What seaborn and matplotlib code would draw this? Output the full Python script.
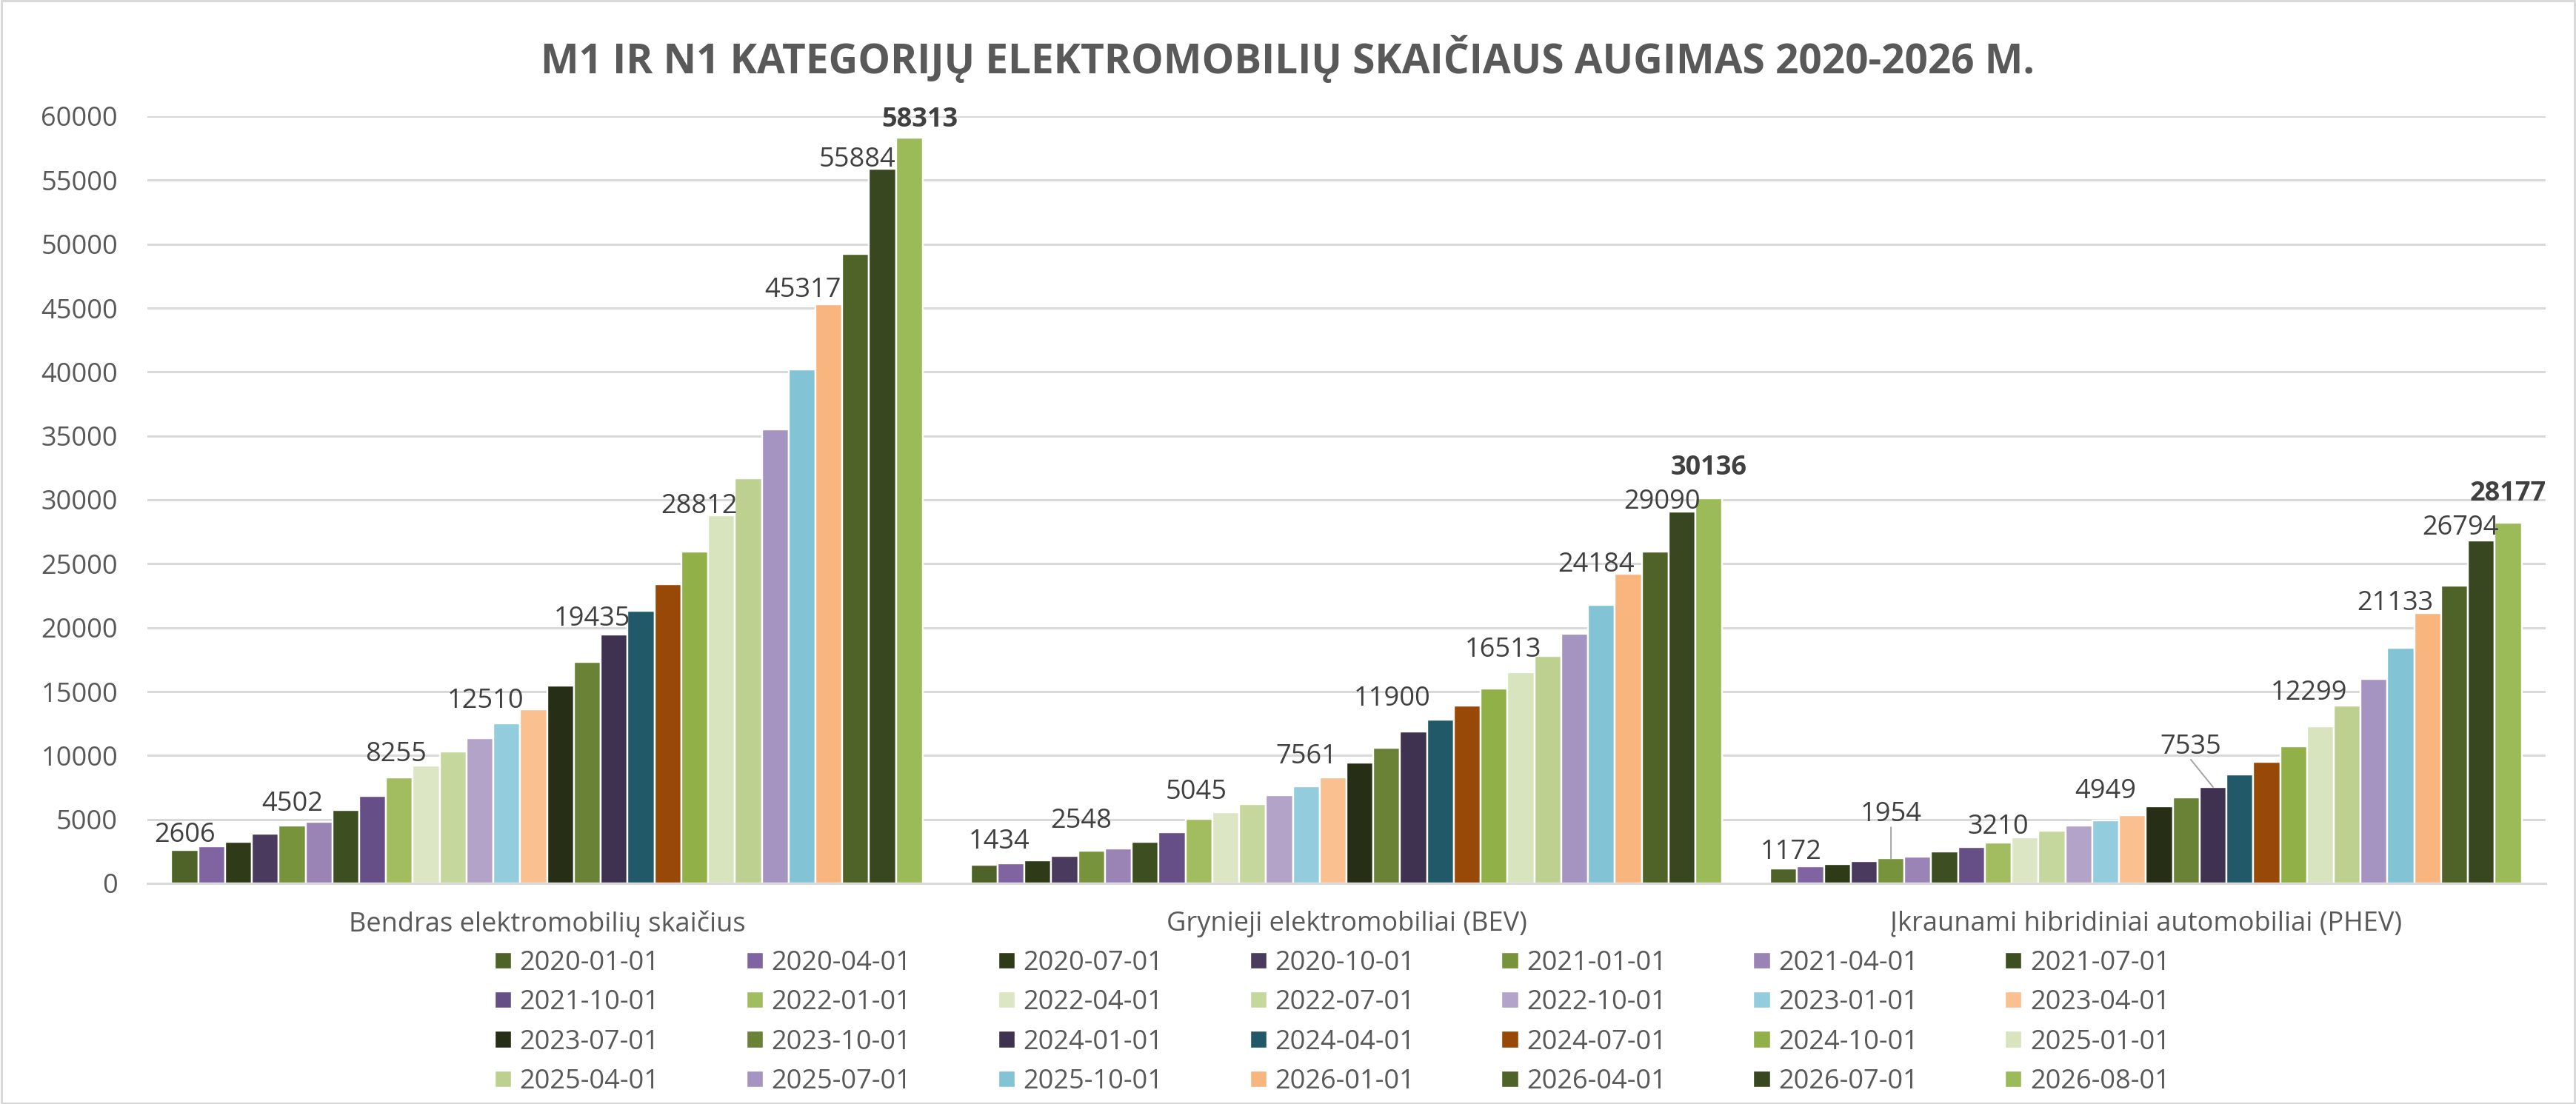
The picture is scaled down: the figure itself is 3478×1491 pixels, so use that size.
import numpy as np
import pandas as pd
import matplotlib
matplotlib.use("Agg")
import matplotlib.pyplot as plt
from matplotlib.patches import Rectangle
import seaborn as sns

# ---------------- data ----------------
title = "M1 IR N1 KATEGORIJŲ ELEKTROMOBILIŲ SKAIČIAUS AUGIMAS 2020-2026 M."
categories = ["Bendras elektromobilių skaičius",
              "Grynieji elektromobiliai (BEV)",
              "Įkraunami hibridiniai automobiliai (PHEV)"]
dates = ["2020-01-01", "2020-04-01", "2020-07-01", "2020-10-01",
         "2021-01-01", "2021-04-01", "2021-07-01", "2021-10-01",
         "2022-01-01", "2022-04-01", "2022-07-01", "2022-10-01",
         "2023-01-01", "2023-04-01", "2023-07-01", "2023-10-01",
         "2024-01-01", "2024-04-01", "2024-07-01", "2024-10-01",
         "2025-01-01", "2025-04-01", "2025-07-01", "2025-10-01",
         "2026-01-01", "2026-04-01", "2026-07-01", "2026-08-01"]
total = [2606, 2910, 3270, 3880, 4502, 4820, 5740, 6840, 8255, 9190, 10330, 11380,
         12510, 13620, 15460, 17340, 19435, 21290, 23410, 25950, 28812, 31680,
         35490, 40190, 45317, 49250, 55884, 58313]
bev = [1434, 1560, 1770, 2130, 2548, 2730, 3220, 3970, 5045, 5570, 6190, 6880,
       7561, 8280, 9420, 10610, 11900, 12800, 13900, 15220, 16513, 17760,
       19510, 21780, 24184, 25970, 29090, 30136]
phev = [1172, 1330, 1500, 1740, 1954, 2080, 2490, 2830, 3210, 3600, 4120, 4500,
        4949, 5340, 6010, 6710, 7535, 8500, 9490, 10710, 12299, 13900,
        15990, 18400, 21133, 23270, 26794, 28177]
yticks = list(range(0, 60001, 5000))

colors = ["#4F6228", "#8064A2", "#2F3A18", "#4A3A5E", "#77933C", "#9A83B5", "#3D4F21",
          "#664E86", "#A2BD5F", "#DCE6C4", "#C5D79D", "#B3A3C8", "#93CDDD", "#FAC08F",
          "#262F15", "#6A8236", "#3F3150", "#215968", "#984807", "#91B048", "#D7E4BD",
          "#BDD08F", "#A594C1", "#82C3D5", "#F9B57E", "#4F6228", "#394720", "#9BBB59"]

# labels shown (hue index) and their manual placement (dx px, gap px) per group
label_idx = [0, 4, 8, 12, 16, 20, 24, 26, 27]
bold_idx = 27
label_place = [
    {0: (0, 11), 4: (0, 20), 8: (-5, 22), 12: (-29, 21), 16: (-30, 12), 20: (-30, 3),
     24: (-35, 10), 26: (-34, 3), 27: (14, 15)},
    {0: (20, 22), 4: (-14, 31), 8: (-4, 27), 12: (0, 31), 16: (-29, 35), 20: (-24, 21),
     24: (-43, 3), 26: (-27, 4), 27: (0, 32)},
    {0: (10, 13), 4: (0, 50), 8: (0, 12), 12: (0, 30), 16: (-30, 45), 20: (-15, 36),
     24: (-44, 4), 26: (-28, 8), 27: (0, 30)},
]
leader = {(2, 4), (2, 16)}

# ---------------- build frame ----------------
series = [total, bev, phev]
rows = []
for ci, cat in enumerate(categories):
    for di, d in enumerate(dates):
        rows.append({"cat": cat, "date": d, "value": series[ci][di]})
df = pd.DataFrame(rows)

sns.set_theme(style="white")
plt.rcParams["font.family"] = ["Open Sans", "DejaVu Sans"]

W, H, DPI = 3478, 1491, 100
fig = plt.figure(figsize=(W / DPI, H / DPI), dpi=DPI, facecolor="white")
PX = 72 / DPI  # px -> pt
FS = 26

ax_l, ax_r, ax_b, ax_t = 199, 3437, 1193, 157
ax = fig.add_axes([ax_l / W, 1 - ax_b / H, (ax_r - ax_l) / W, (ax_b - ax_t) / H])

sns.barplot(data=df, x="cat", y="value", hue="date", order=categories, hue_order=dates,
            palette=colors, saturation=1, width=0.94, dodge=True,
            edgecolor="white", linewidth=2.4 * PX, ax=ax, legend=True, errorbar=None)

ax.set_ylim(0, 60000)
ax.set_xlim(-0.5, 2.5)
ax.set_yticks(yticks)
ax.set_yticklabels([str(v) for v in yticks])
ax.set_xlabel("")
ax.set_ylabel("")
ax.yaxis.grid(True, color="#D9D9D9", linewidth=3 * PX)
ax.set_axisbelow(True)
for s in ["left", "right", "top"]:
    ax.spines[s].set_visible(False)
ax.spines["bottom"].set_color("#D9D9D9")
ax.spines["bottom"].set_linewidth(3 * PX)
ax.tick_params(axis="y", length=0, pad=40 * PX, labelsize=FS, labelcolor="#595959")
ax.tick_params(axis="x", length=0, pad=37 * PX, labelsize=FS, labelcolor="#595959")

# data labels
for gi in range(3):
    for hi in label_idx:
        bar = ax.containers[hi][gi]
        x = bar.get_x() + bar.get_width() / 2
        h = bar.get_height()
        dx, gap = label_place[gi][hi]
        ax.annotate(str(series[gi][hi]), xy=(x, h), xytext=(dx * PX, gap * PX),
                    textcoords="offset points", ha="center", va="baseline",
                    fontsize=FS, color="#404040",
                    fontweight="bold" if hi == bold_idx else "normal")
        if (gi, hi) in leader:
            ax.annotate("", xy=(x, h), xytext=(dx * PX, (gap - 8) * PX),
                        textcoords="offset points",
                        arrowprops=dict(arrowstyle="-", color="#A6A6A6",
                                        lw=2 * PX, shrinkA=0, shrinkB=0))

# legend (row-major order like reference)
handles, labels = ax.get_legend_handles_labels()
ax.get_legend().remove()
ncol, nrow = 7, 4
order = [r * ncol + c for c in range(ncol) for r in range(nrow)]
leg = fig.legend([handles[i] for i in order], [labels[i] for i in order],
                 ncol=ncol, loc="center", bbox_to_anchor=(1799 / W, 1 - 1381 / H),
                 frameon=False, fontsize=FS, labelcolor="#595959",
                 handlelength=0.64, handleheight=0.62, handletextpad=0.30,
                 columnspacing=3.24, labelspacing=0.48, borderpad=0)

fig.text(0.5, 1 - 79 / H, title, ha="center", va="center", fontsize=39.5,
         fontweight="bold", color="#595959")

fig.patches.append(Rectangle((0.0005, 0.001), 0.999, 0.998, transform=fig.transFigure,
                             fill=False, edgecolor="#D9D9D9", linewidth=3 * PX))

fig.savefig("out.png", dpi=DPI, facecolor="white")
